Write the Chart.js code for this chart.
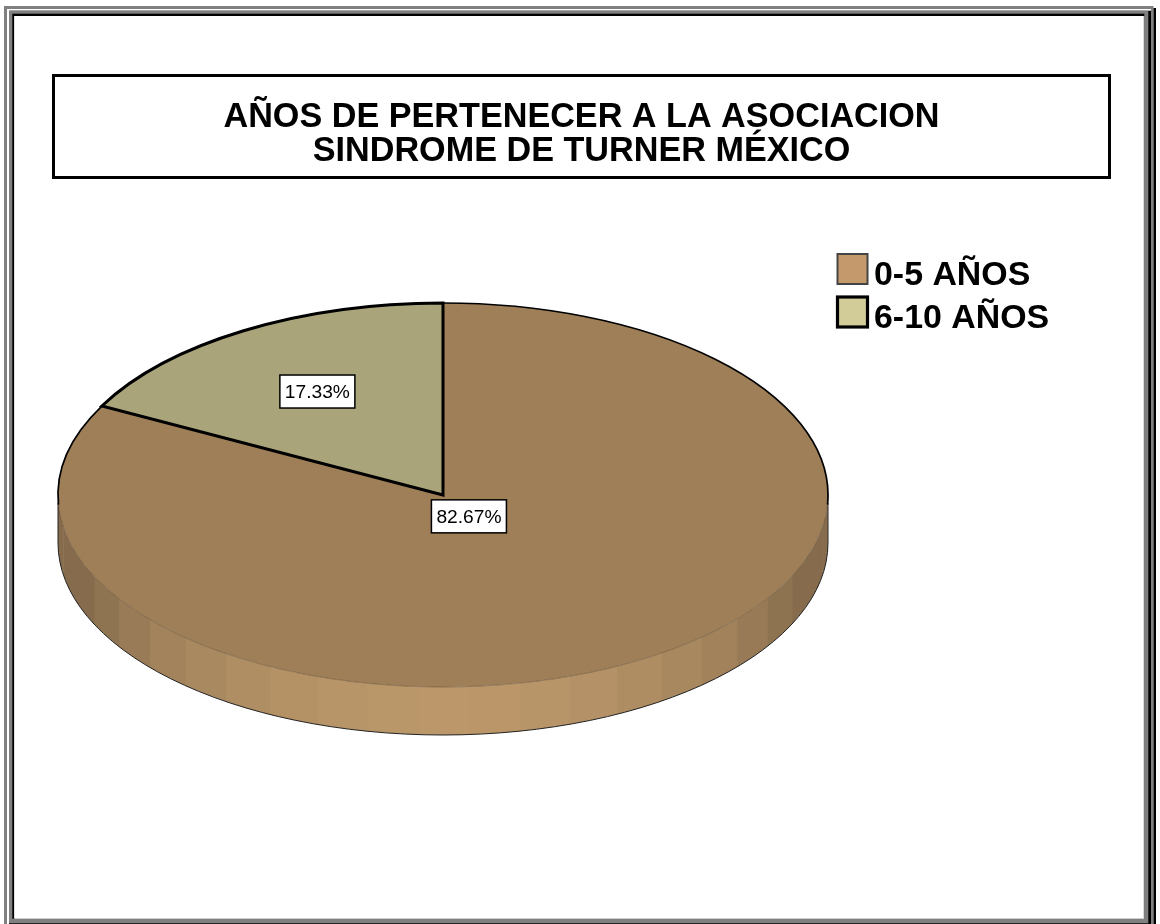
<!DOCTYPE html>
<html>
<head>
<meta charset="utf-8">
<title>Años de pertenecer</title>
<script src="https://cdn.jsdelivr.net/npm/chart.js@4"></script>
<style>
    body { margin: 0; background: #fff; }
    canvas { display: block; }
</style>
</head>
<body>
<canvas id="pieChart" width="1160" height="924"></canvas>
<script>
const titleLines = ['AÑOS DE PERTENECER A LA ASOCIACION', 'SINDROME DE TURNER MÉXICO'];
const categories = ['0-5 AÑOS', '6-10 AÑOS'];
const percentages = [82.67, 17.33];

const topColors = ['#9f7f58', '#a9a47a'];
const legendColors = ['#c49a6c', '#d2cd98'];
const fontName = '"Liberation Sans", Arial, sans-serif';

// the pie is a circle for Chart.js, squashed and moved here when it is drawn
const pieX = 443, pieY = 495, squash = 192 / 385, wallDepth = 48;
// how far out along the slice each label sits
const labelReach = [0.13, 0.63];

function wallColor(theta) {
    // lighter towards the front of the pie
    const r = Math.max(134, 102 + 85 * Math.cos(theta));
    return `rgb(${Math.round(r)},${Math.round(r * 0.808)},${Math.round(r * 0.566)})`;
}

const framePlugin = {
    id: 'frame',
    beforeDraw(chart) {
        const ctx = chart.ctx;
        ctx.save();
        ctx.fillStyle = '#808080';
        ctx.fillRect(4, 6, 1149.5, 918);
        ctx.fillStyle = '#000';
        ctx.fillRect(1153.5, 8, 2.5, 916);
        ctx.fillRect(7, 9, 1144, 915);
        ctx.fillStyle = '#fff';
        ctx.fillRect(7, 9, 2, 915);
        ctx.fillRect(7, 9, 1144, 1.7);
        ctx.fillStyle = '#808080';
        ctx.fillRect(9, 10.7, 1139.3, 912.6);
        ctx.fillStyle = '#000';
        ctx.fillRect(12.3, 13.7, 1132, 905);
        ctx.fillStyle = '#ccc';
        ctx.fillRect(14.3, 16, 1130, 903);
        ctx.fillStyle = '#fff';
        ctx.fillRect(14.3, 16, 1129, 902);

        // box behind the title
        ctx.strokeStyle = '#000';
        ctx.lineWidth = 3;
        ctx.strokeRect(53.5, 75.5, 1056, 102);
        ctx.restore();
    }
};

const pie3dPlugin = {
    id: 'pie3d',
    beforeDatasetsDraw(chart) {
        const ctx = chart.ctx;
        const arc = chart.getDatasetMeta(0).data[0];
        const rx = arc.outerRadius, ry = rx * squash;

        // side wall, in narrow bands like the original
        const step = 7.65 * Math.PI / 180;
        for (let k = -13; k < 12; k++) {
            const t1 = Math.max(-Math.PI / 2, (4.2 * Math.PI / 180) + k * step);
            const t2 = Math.min(Math.PI / 2, t1 + step);
            if (t2 <= t1) continue;
            ctx.beginPath();
            ctx.ellipse(pieX, pieY + wallDepth, rx, ry, 0, Math.PI / 2 - t2, Math.PI / 2 - t1 + 0.004);
            ctx.ellipse(pieX, pieY, rx, ry, 0, Math.PI / 2 - t1 + 0.004, Math.PI / 2 - t2, true);
            ctx.closePath();
            ctx.fillStyle = wallColor((t1 + t2) / 2);
            ctx.fill();
        }
        ctx.beginPath();
        ctx.moveTo(pieX + rx, pieY + 8);
        ctx.lineTo(pieX + rx, pieY + wallDepth);
        ctx.ellipse(pieX, pieY + wallDepth, rx, ry, 0, 0, Math.PI);
        ctx.lineTo(pieX - rx, pieY + 8);
        ctx.strokeStyle = '#222';
        ctx.lineWidth = 1;
        ctx.stroke();

        ctx.save();
        ctx.translate(pieX, pieY);
        ctx.scale(1, squash);
        ctx.translate(-arc.x, -arc.y);
    },
    afterDatasetsDraw(chart) {
        const ctx = chart.ctx;
        ctx.restore();
        const arcs = chart.getDatasetMeta(0).data;
        const rx = arcs[0].outerRadius, ry = rx * squash;
        const big = arcs[0], small = arcs[1];

        // outlines are done here so the squash does not thin the pen
        ctx.save();
        ctx.strokeStyle = 'rgba(60,45,25,0.35)';
        ctx.lineWidth = 1;
        ctx.beginPath();
        ctx.ellipse(pieX, pieY, rx, ry, 0, 0, Math.PI);
        ctx.stroke();

        ctx.strokeStyle = '#000';
        ctx.lineWidth = 1.7;
        ctx.beginPath();
        ctx.ellipse(pieX, pieY, rx, ry, 0, Math.PI - 0.05, big.endAngle);
        ctx.stroke();
        ctx.beginPath();
        ctx.ellipse(pieX, pieY, rx, ry, 0, big.startAngle, 0.05);
        ctx.stroke();

        ctx.lineWidth = 3;
        ctx.lineJoin = 'miter';
        ctx.beginPath();
        ctx.moveTo(pieX, pieY);
        ctx.ellipse(pieX, pieY, rx, ry, 0, small.startAngle, small.endAngle);
        ctx.closePath();
        ctx.stroke();

        // percentage labels
        ctx.font = '19.2px ' + fontName;
        ctx.textAlign = 'center';
        ctx.textBaseline = 'middle';
        arcs.forEach((a, i) => {
            const mid = (a.startAngle + a.endAngle) / 2;
            const x = pieX + Math.cos(mid) * rx * labelReach[i];
            const y = pieY + Math.sin(mid) * ry * labelReach[i];
            const text = percentages[i].toFixed(2) + '%';
            const w = 75, h = 33;
            ctx.fillStyle = '#fff';
            ctx.fillRect(x - w / 2, y - h / 2, w, h);
            ctx.strokeStyle = '#000';
            ctx.lineWidth = 1.5;
            ctx.strokeRect(x - w / 2, y - h / 2, w, h);
            ctx.fillStyle = '#000';
            ctx.fillText(text, x, y + 1);
        });
        ctx.restore();
    }
};

const legendPlugin = {
    id: 'sideLegend',
    afterDraw(chart) {
        const ctx = chart.ctx;
        const borders = [[2, '#444'], [3.2, '#000']];
        ctx.save();
        ctx.font = 'bold 33.9px ' + fontName;
        ctx.textBaseline = 'middle';
        ctx.textAlign = 'left';
        categories.forEach((name, i) => {
            const y = 254 + i * 43;
            ctx.fillStyle = legendColors[i];
            ctx.fillRect(837.5, y, 30, 30);
            ctx.lineWidth = borders[i][0];
            ctx.strokeStyle = borders[i][1];
            ctx.strokeRect(837.5, y, 30, 30);
            ctx.fillStyle = '#000';
            ctx.fillText(name, 874, y + 22);
        });
        ctx.restore();
    }
};

new Chart(document.getElementById('pieChart'), {
    type: 'pie',
    data: {
        labels: categories,
        datasets: [{
            data: percentages,
            backgroundColor: topColors,
            borderWidth: 0
        }]
    },
    options: {
        responsive: false,
        animation: false,
        radius: 385,
        layout: { padding: { left: 3 } },
        plugins: {
            legend: { display: false },
            tooltip: { enabled: false },
            title: {
                display: true,
                text: titleLines,
                color: '#000',
                font: { family: fontName, size: 34.2, weight: 'bold', lineHeight: 1 },
                padding: { top: 100, bottom: 14 }
            }
        }
    },
    plugins: [framePlugin, pie3dPlugin, legendPlugin]
});
</script>
</body>
</html>
